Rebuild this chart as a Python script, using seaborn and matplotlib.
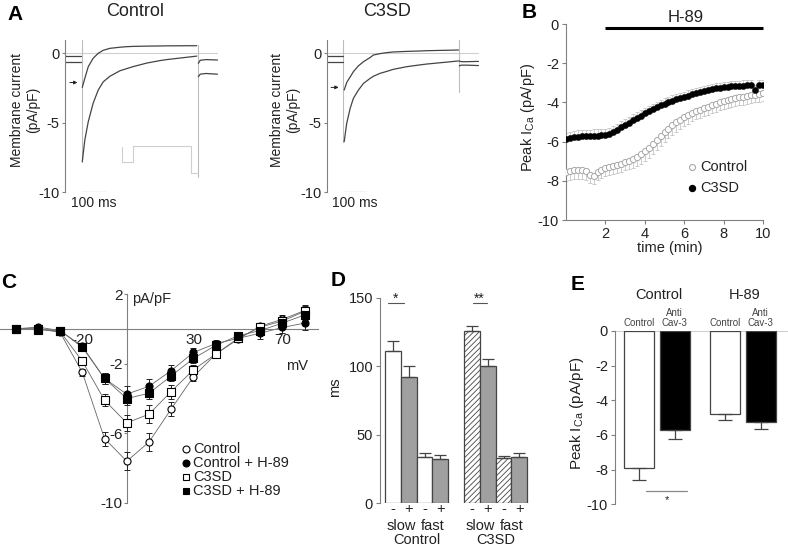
import numpy as np
import matplotlib
matplotlib.use("Agg")
import matplotlib.pyplot as plt
import seaborn as sns
from matplotlib.lines import Line2D

# ======================= DATA =======================
# Panel A - representative current traces (pA/pF) vs time (ms, 0 = test pulse onset)
a_pre_t = [-70, -1]
a_post_t = [507, 515, 540, 590]

a_ctrl_t = [3, 14, 29, 50, 72, 94, 123, 167, 196, 225, 283, 341, 370, 500]
a_ctrl_upper = [-2.45, -1.8, -0.96, -0.36, 0.0, 0.22, 0.36, 0.44, 0.48, 0.5, 0.52, 0.53, 0.54, 0.55]
a_ctrl_lower = [-7.8, -6.24, -4.92, -3.6, -2.65, -2.05, -1.65, -1.25, -1.1, -0.95, -0.7, -0.52, -0.45, -0.2]
a_ctrl_upper_pre = [-0.2, -0.2]
a_ctrl_lower_pre = [-0.65, -0.65]
a_ctrl_upper_post = [-0.72, -0.5, -0.45, -0.48]
a_ctrl_lower_post = [-1.68, -1.5, -1.45, -1.5]
a_protocol_t = [174, 174, 224, 224, 474, 474, 507]
a_protocol_v = [-6.72, -7.8, -7.8, -6.67, -6.67, -8.6, -8.6]

a_c3sd_t = [6, 17, 32, 46, 68, 90, 119, 133, 162, 191, 220, 278, 336, 365, 503]
a_c3sd_upper = [-2.64, -2.1, -1.7, -1.32, -0.9, -0.6, -0.3, -0.12, -0.02, 0.05, 0.1, 0.14, 0.17, 0.19, 0.24]
a_c3sd_lower = [-6.36, -5.04, -3.96, -3.24, -2.64, -2.16, -1.8, -1.65, -1.44, -1.3, -1.15, -0.96, -0.83, -0.77, -0.55]
a_c3sd_upper_pre = [-0.17, -0.17]
a_c3sd_lower_pre = [-0.65, -0.65]
a_c3sd_upper_post = [-0.55, -0.6, -0.6, -0.58]
a_c3sd_lower_post = [-0.9, -0.85, -0.85, -0.88]

# Panel B - peak ICa time course (min)
b_time = np.round(np.arange(51) * 0.2, 1)
b_control = [-7.55, -7.5, -7.47, -7.45, -7.47, -7.5, -7.7, -7.75, -7.55, -7.45,
             -7.35, -7.3, -7.25, -7.2, -7.12, -7.05, -6.97, -6.88, -6.78, -6.65,
             -6.5, -6.32, -6.12, -5.92, -5.72, -5.52, -5.34, -5.17, -5.02, -4.88,
             -4.75, -4.64, -4.54, -4.45, -4.37, -4.3, -4.22, -4.15, -4.08, -4.0,
             -3.93, -3.87, -3.82, -3.78, -3.74, -3.71, -3.67, -3.64, -3.6, -3.57, -3.54]
b_control_sem = [0.45, 0.45, 0.45, 0.45, 0.45, 0.45, 0.4, 0.4, 0.4, 0.42,
                 0.42, 0.42, 0.42, 0.42, 0.42, 0.42, 0.44, 0.45, 0.46, 0.47,
                 0.48, 0.5, 0.5, 0.5, 0.5, 0.5, 0.5, 0.48, 0.47, 0.46,
                 0.45, 0.44, 0.43, 0.42, 0.41, 0.4, 0.4, 0.4, 0.4, 0.4,
                 0.4, 0.4, 0.4, 0.4, 0.4, 0.4, 0.4, 0.4, 0.4, 0.4, 0.4]
b_c3sd = [-5.87, -5.82, -5.78, -5.75, -5.73, -5.72, -5.71, -5.7, -5.69, -5.68,
          -5.66, -5.6, -5.5, -5.39, -5.27, -5.15, -5.03, -4.91, -4.79, -4.67,
          -4.56, -4.45, -4.35, -4.25, -4.15, -4.06, -3.98, -3.91, -3.84, -3.78,
          -3.72, -3.65, -3.58, -3.52, -3.46, -3.41, -3.36, -3.32, -3.29, -3.26,
          -3.23, -3.2, -3.18, -3.17, -3.15, -3.14, -3.13, -3.13, -3.38, -3.12, -3.1]
b_c3sd_sem = [0.32, 0.32, 0.32, 0.32, 0.32, 0.32, 0.32, 0.32, 0.32, 0.32,
              0.3, 0.3, 0.3, 0.3, 0.3, 0.3, 0.3, 0.3, 0.3, 0.3,
              0.28, 0.28, 0.28, 0.28, 0.28, 0.28, 0.28, 0.28, 0.28, 0.28,
              0.27, 0.27, 0.27, 0.27, 0.27, 0.27, 0.27, 0.27, 0.27, 0.27,
              0.26, 0.26, 0.26, 0.26, 0.26, 0.26, 0.26, 0.26, 0.26, 0.26, 0.26]

# Panel C - I/V relationships
c_voltage = [-50, -40, -30, -20, -10, 0, 10, 20, 30, 40, 50, 60, 70, 80]
c_control = [0.0, 0.0, -0.2, -2.5, -6.3, -7.6, -6.5, -4.6, -2.75, -1.45, -0.6, 0.15, 0.55, 1.05]
c_control_err = [0.05, 0.05, 0.1, 0.2, 0.4, 0.5, 0.5, 0.4, 0.25, 0.15, 0.15, 0.2, 0.25, 0.3]
c_control_h89 = [0.0, 0.1, -0.1, -1.0, -2.85, -3.75, -3.3, -2.4, -1.35, -0.85, -0.55, -0.25, 0.08, 0.33]
c_control_h89_err = [0.05, 0.05, 0.1, 0.2, 0.3, 0.45, 0.4, 0.35, 0.25, 0.2, 0.2, 0.35, 0.3, 0.4]
c_c3sd = [0.0, 0.0, -0.15, -1.85, -4.1, -5.4, -4.9, -3.6, -2.35, -1.45, -0.55, 0.1, 0.45, 1.0]
c_c3sd_err = [0.05, 0.05, 0.1, 0.25, 0.35, 0.45, 0.5, 0.4, 0.3, 0.2, 0.2, 0.2, 0.25, 0.3]
c_c3sd_h89 = [0.0, -0.05, -0.1, -1.05, -2.85, -4.0, -3.7, -2.7, -1.7, -0.95, -0.4, -0.1, 0.33, 0.8]
c_c3sd_h89_err = [0.05, 0.05, 0.1, 0.2, 0.3, 0.35, 0.35, 0.3, 0.25, 0.2, 0.2, 0.2, 0.25, 0.3]
c_labels = ["Control", "Control + H-89", "C3SD", "C3SD + H-89"]

# Panel D - inactivation time constants (ms)
d_bars = ["Control slow -", "Control slow +", "Control fast -", "Control fast +",
          "C3SD slow -", "C3SD slow +", "C3SD fast -", "C3SD fast +"]
d_means = [111, 92, 33.5, 32, 125.5, 100.5, 33.3, 33.7]
d_sem = [7.5, 8.5, 3.0, 3.0, 4.0, 5.0, 1.0, 3.0]

# Panel E - peak ICa
e_bars = ["Control/Control", "Control/Anti Cav-3", "H-89/Control", "H-89/Anti Cav-3"]
e_means = [-7.9, -5.7, -4.8, -5.25]
e_sem = [0.7, 0.55, 0.33, 0.42]

# ======================= STYLE =======================
sns.set_theme(style="ticks")
plt.rcParams["font.family"] = ["Liberation Sans", "DejaVu Sans"]
plt.rcParams["mathtext.fontset"] = "custom"
plt.rcParams["mathtext.rm"] = "Liberation Sans"
plt.rcParams["axes.unicode_minus"] = False
plt.rcParams["hatch.linewidth"] = 0.6

TXT = "#222222"
SPINE = "#808080"
TRACE = "#444444"
LIGHT = "#c8c8c8"

W, H = 788, 548
fig = plt.figure(figsize=(W / 100, H / 100), dpi=100)
fig.patch.set_facecolor("white")


def rect(l, t, r, b):
    return [l / W, 1 - b / H, (r - l) / W, (b - t) / H]


def ftext(x, y, s, **kw):
    kw.setdefault("color", TXT)
    fig.text(x / W, 1 - y / H, s, **kw)


def style_ax(ax, fs=10.5):
    for s in ["top", "right"]:
        ax.spines[s].set_visible(False)
    for s in ["left", "bottom"]:
        ax.spines[s].set_color(SPINE)
        ax.spines[s].set_linewidth(0.8)
    ax.tick_params(colors=SPINE, labelcolor=TXT, labelsize=fs, length=3, width=0.8, pad=2)
    ax.set_facecolor("none")


def line(ax, x, y, **kw):
    sns.lineplot(x=list(x), y=list(y), ax=ax, estimator=None, sort=False, legend=False, **kw)


# ======================= PANEL A =======================
def trace_panel(r, xlim, segs_upper, segs_lower, t_on_top, t_on_bot, t_off_top, t_off_bot,
                arrow_y, protocol=None):
    ax = fig.add_axes(r)
    style_ax(ax)
    ax.set_xlim(*xlim)
    ax.set_ylim(-10, 0.96)
    ax.spines["bottom"].set_visible(False)
    ax.set_xticks([])
    ax.set_yticks([0, -5, -10])
    ax.set_yticklabels(["0", "-5", "-10"])
    ax.tick_params(axis="y", length=2)
    line(ax, [a_pre_t[0], a_post_t[-1]], [0, 0], color="#d0d0d0", lw=0.8)
    line(ax, [0, 0], [t_on_top, t_on_bot], color="#bdbdbd", lw=0.8)
    line(ax, [a_post_t[0] - 2, a_post_t[0] - 2], [t_off_top, t_off_bot], color="#bdbdbd", lw=0.8)
    if protocol is not None:
        line(ax, protocol[0], protocol[1], color="#cfcfcf", lw=0.8)
    for (tx, vy) in segs_upper + segs_lower:
        line(ax, tx, vy, color=TRACE, lw=0.9)
    ax.annotate("", xy=(-6, arrow_y), xytext=(-63, arrow_y),
                arrowprops=dict(arrowstyle="-|>", color=TXT, lw=0.7, mutation_scale=5))
    line(ax, [0, 100], [-10, -10], color="#a8a8a8", lw=0.9)
    return ax


axA1 = trace_panel(rect(65, 40, 220, 192.3), (-72, 601),
                   [(a_pre_t, a_ctrl_upper_pre), (a_ctrl_t, a_ctrl_upper), (a_post_t, a_ctrl_upper_post)],
                   [(a_pre_t, a_ctrl_lower_pre), (a_ctrl_t, a_ctrl_lower), (a_post_t, a_ctrl_lower_post)],
                   0.95, -7.8, 0.6, -8.9, -2.1, protocol=(a_protocol_t, a_protocol_v))
axA1.text(53, -10.75, "100 ms", ha="center", va="center", fontsize=10, color=TXT)

axA2 = trace_panel(rect(326.7, 40, 481.7, 192.3), (-70, 604),
                   [(a_pre_t, a_c3sd_upper_pre), (a_c3sd_t, a_c3sd_upper), (a_post_t, a_c3sd_upper_post)],
                   [(a_pre_t, a_c3sd_lower_pre), (a_c3sd_t, a_c3sd_lower), (a_post_t, a_c3sd_lower_post)],
                   0.95, -6.36, 0.95, -2.76, -2.45)
axA2.text(53, -10.75, "100 ms", ha="center", va="center", fontsize=10, color=TXT)

ftext(135, 11, "Control", ha="center", va="center", fontsize=13)
ftext(387, 11, "C3SD", ha="center", va="center", fontsize=13)
ftext(25, 110, "Membrane current\n(pA/pF)", ha="center", va="center", rotation=90,
      fontsize=10, linespacing=1.2)
ftext(285, 110, "Membrane current\n(pA/pF)", ha="center", va="center", rotation=90,
      fontsize=10, linespacing=1.2)

# ======================= PANEL B =======================
axB = fig.add_axes(rect(566, 24, 763, 220))
style_ax(axB)
axB.set_xlim(0, 10)
axB.set_ylim(-10, 0)
zeros = np.zeros(len(b_time))
axB.errorbar(b_time, b_control, yerr=[b_control_sem, zeros], fmt="none", ecolor="#c4c4c4",
             elinewidth=0.6, capsize=1.2, capthick=0.6, zorder=2)
sns.scatterplot(x=b_time, y=b_control, ax=axB, marker="o", s=20, color="white",
                edgecolor="#a8a8a8", linewidth=0.7, zorder=3, legend=False)
axB.errorbar(b_time, b_c3sd, yerr=[zeros, b_c3sd_sem], fmt="none", ecolor="#c4c4c4",
             elinewidth=0.6, capsize=1.2, capthick=0.6, zorder=2)
sns.scatterplot(x=b_time, y=b_c3sd, ax=axB, marker="o", s=20, color="black",
                edgecolor="black", linewidth=0.3, zorder=4, legend=False)
axB.set_xticks([2, 4, 6, 8, 10])
axB.set_yticks([0, -2, -4, -6, -8, -10])
axB.set_xlabel("")
axB.set_ylabel("")
axB.plot([2, 10], [-0.22, -0.22], color="black", lw=2.2, clip_on=False, zorder=5,
         solid_capstyle="butt")
axB.text(6.1, 0.33, "H-89", ha="center", va="center", fontsize=12, color=TXT, clip_on=False)
ftext(528, 117, r"Peak I$_{\mathregular{Ca}}$ (pA/pF)", ha="center", va="center",
      rotation=90, fontsize=10.5)
ftext(670, 248, "time (min)", ha="center", va="center", fontsize=10.5)
fig.add_artist(Line2D([691.7 / W], [1 - 166.7 / H], marker="o", ms=4.3, mfc="white",
                      mec="#a8a8a8", mew=0.8, ls="none", transform=fig.transFigure))
fig.add_artist(Line2D([691.7 / W], [1 - 187.7 / H], marker="o", ms=4.3, mfc="black",
                      mec="black", ls="none", transform=fig.transFigure))
ftext(700, 166.7, "Control", ha="left", va="center", fontsize=10.5)
ftext(700, 187.7, "C3SD", ha="left", va="center", fontsize=10.5)

# ======================= PANEL C =======================
axC = fig.add_axes(rect(0, 294, 318, 503))
style_ax(axC, fs=11)
axC.set_xlim(-57, 86)
axC.set_ylim(-10, 2)
axC.spines["left"].set_position(("data", 0))
axC.spines["bottom"].set_position(("data", 0))
c_series = [(c_control, c_control_err, "o", "white"),
            (c_control_h89, c_control_h89_err, "o", "black"),
            (c_c3sd, c_c3sd_err, "s", "white"),
            (c_c3sd_h89, c_c3sd_h89_err, "s", "black")]
for vals, err, mk, fc in c_series:
    line(axC, c_voltage, vals, color="#666666", lw=0.6)
    axC.errorbar(c_voltage, vals, yerr=err, fmt="none", ecolor="#222222", elinewidth=0.7,
                 capsize=2.5, capthick=0.7, zorder=3)
for vals, err, mk, fc in c_series:
    sns.scatterplot(x=c_voltage, y=vals, ax=axC, marker=mk, s=26, color=fc,
                    edgecolor="black", linewidth=0.8, zorder=4, legend=False)
axC.set_xlabel("")
axC.set_ylabel("")
axC.set_xticks([-20, 30, 70])
axC.set_xticklabels(["-20", "30", "70"])
axC.tick_params(axis="x", length=0, pad=3)
axC.set_yticks([2, -2, -6, -10])
axC.set_yticklabels(["2", "-2", "-6", "-10"])
axC.tick_params(axis="y", length=2, pad=1)
ftext(152, 299, "pA/pF", ha="center", va="center", fontsize=10.5)
ftext(297, 366, "mV", ha="center", va="center", fontsize=10.5)
for i, (lab, (_, _, mk, fc)) in enumerate(zip(c_labels, c_series)):
    y = 449.3 + i * 13.9
    fig.add_artist(Line2D([185.7 / W], [1 - y / H], marker=mk, ms=5, mfc=fc, mec="black",
                          mew=0.8, ls="none", transform=fig.transFigure))
    ftext(193, y, lab, ha="left", va="center", fontsize=10.5)

# ======================= PANEL D =======================
axD = fig.add_axes(rect(380, 297.7, 528.8, 503.3))
style_ax(axD)
d_pos = [0, 1, 2, 3, 5, 6, 7, 8]
sns.barplot(x=d_pos, y=d_means, native_scale=True, width=1, errorbar=None, color="white",
            saturation=1, edgecolor="#444444", linewidth=0.9, ax=axD, orient="x")
d_fill = ["white", "#a0a0a0", "white", "#a0a0a0", "white", "#a0a0a0", "white", "#a0a0a0"]
d_hatch = [None, None, None, None, "//////", None, "//////", None]
for p, fc, h in zip(axD.patches, d_fill, d_hatch):
    p.set_facecolor(fc)
    p.set_edgecolor("#444444")
    if h:
        p.set_hatch(h)
axD.errorbar(d_pos, d_means, yerr=[np.zeros(len(d_pos)), d_sem], fmt="none", ecolor="#444444",
             elinewidth=0.9, capsize=4.5, capthick=0.9, zorder=3)
axD.set_xlim(-0.82, 8.6)
axD.set_ylim(0, 150)
axD.spines["bottom"].set_visible(False)
axD.set_xticks([])
axD.set_yticks([0, 50, 100, 150])
axD.set_xlabel("")
axD.set_ylabel("")
trD = axD.get_xaxis_transform()


def yD(px):
    return (503.3 - px) / (503.3 - 297.7)


for x, s in zip(d_pos, ["-", "+", "-", "+", "-", "+", "-", "+"]):
    axD.text(x, yD(509), s, transform=trD, ha="center", va="center", fontsize=10.5, color=TXT)
for x, s in [(0.5, "slow"), (2.5, "fast"), (5.5, "slow"), (7.5, "fast")]:
    axD.text(x, yD(526), s, transform=trD, ha="center", va="center", fontsize=10.5, color=TXT)
for x, s in [(1.5, "Control"), (6.5, "C3SD")]:
    axD.text(x, yD(540), s, transform=trD, ha="center", va="center", fontsize=10.5, color=TXT)
axD.plot([-0.33, 0.7], [146, 146], color="#555555", lw=0.8, clip_on=False)
axD.text(0.18, 149.5, "*", ha="center", va="center", fontsize=10, color=TXT, clip_on=False)
axD.plot([5.05, 5.93], [146, 146], color="#555555", lw=0.8, clip_on=False)
axD.text(5.49, 149.5, "**", ha="center", va="center", fontsize=10, color=TXT, clip_on=False)
ftext(335, 387, "ms", ha="center", va="center", rotation=90, fontsize=10.5)

# ======================= PANEL E =======================
axE = fig.add_axes(rect(615, 331, 788, 504.3))
style_ax(axE)
e_pos = [0, 1, 2.42, 3.42]
axE.axhline(0, color="#d0d0d0", lw=0.8, zorder=0)
sns.barplot(x=e_pos, y=e_means, native_scale=True, width=0.845, errorbar=None, color="white",
            saturation=1, edgecolor="#444444", linewidth=0.9, ax=axE, orient="x")
for p, fc in zip(axE.patches, ["white", "black", "white", "black"]):
    p.set_facecolor(fc)
    p.set_edgecolor("#444444")
axE.errorbar(e_pos, e_means, yerr=[e_sem, np.zeros(len(e_pos))], fmt="none", ecolor="#444444",
             elinewidth=0.9, capsize=5, capthick=0.9, zorder=3)
axE.set_xlim(-0.685, 4.19)
axE.set_ylim(-10, 0)
axE.spines["bottom"].set_visible(False)
axE.set_xticks([])
axE.set_yticks([0, -2, -4, -6, -8, -10])
axE.set_xlabel("")
axE.set_ylabel("")
axE.plot([0.18, 1.35], [-9.23, -9.23], color="#888888", lw=0.9, clip_on=False)
axE.text(0.77, -9.75, "*", ha="center", va="center", fontsize=8, color=TXT, clip_on=False)
axE.text(0.56, 2.08, "Control", ha="center", va="center", fontsize=10.5, color=TXT, clip_on=False)
axE.text(2.98, 2.08, "H-89", ha="center", va="center", fontsize=10.5, color=TXT, clip_on=False)
for x in [0, 2.42]:
    axE.text(x, 0.44, "Control", ha="center", va="center", fontsize=7, color="#444444", clip_on=False)
for x in [1, 3.42]:
    axE.text(x, 0.44, "Cav-3", ha="center", va="center", fontsize=7, color="#444444", clip_on=False)
    axE.text(x, 1.02, "Anti", ha="center", va="center", fontsize=7, color="#444444", clip_on=False)
ftext(577, 413, r"Peak I$_{\mathregular{Ca}}$ (pA/pF)", ha="center", va="center",
      rotation=90, fontsize=11)

# ======================= PANEL LETTERS =======================
for x, y, s in [(15, 14, "A"), (529, 13, "B"), (9, 283, "C"), (338, 281, "D"), (578, 285, "E")]:
    ftext(x, y, s, ha="center", va="center", fontsize=15, fontweight="bold", color="black")

fig.savefig("out.png", dpi=100)
